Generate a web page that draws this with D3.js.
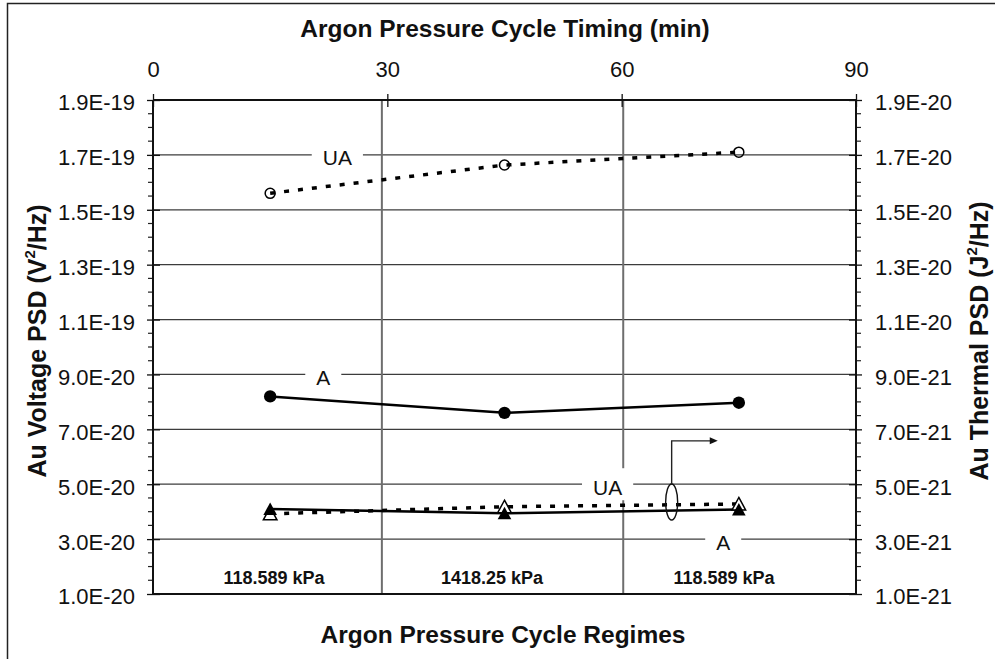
<!DOCTYPE html>
<html>
<head>
<meta charset="utf-8">
<script src="https://cdn.jsdelivr.net/npm/d3@7"></script>
<style>
  html, body { margin: 0; padding: 0; background: #fff; }
  svg { display: block; font-family: "Liberation Sans", Arial, sans-serif; }
</style>
</head>
<body>
<svg id="chart" width="995" height="659"></svg>
<script>
// ---- data ----
const minutes = [15, 45, 75];
const uaVoltage = [1.56e-19, 1.663e-19, 1.71e-19];   // open circles, left axis
const aVoltage = [8.2e-20, 7.6e-20, 7.97e-20];       // filled circles, left axis
const uaThermal = [3.92e-21, 4.18e-21, 4.28e-21];    // open triangles, right axis
const aThermal = [4.1e-21, 3.94e-21, 4.08e-21];      // filled triangles, right axis

const timeTicks = [0, 30, 60, 90];
const voltageTicks = [1.0e-20, 3.0e-20, 5.0e-20, 7.0e-20, 9.0e-20, 1.1e-19, 1.3e-19, 1.5e-19, 1.7e-19, 1.9e-19];
const thermalTicks = [1.0e-21, 3.0e-21, 5.0e-21, 7.0e-21, 9.0e-21, 1.1e-20, 1.3e-20, 1.5e-20, 1.7e-20, 1.9e-20];

const regimeEdges = [29.3, 60.2];
const regimeNames = ["118.589 kPa", "1418.25 kPa", "118.589 kPa"];

// ---- layout ----
const W = 995, H = 659;
const M = { left: 153, right: 139, top: 100, bottom: 65 };
const regimeLabelAt = [15.5, 43.4, 73.1];

const svg = d3.select("#chart");
svg.append("rect").attr("width", W).attr("height", H).attr("fill", "#fff");
// outer frame
svg.append("rect").attr("x", 7.5).attr("y", 3.5).attr("width", W + 10).attr("height", H + 10)
  .attr("fill", "none").attr("stroke", "#222").attr("stroke-width", 1.5);

const x = d3.scaleLinear().domain([0, 90]).range([M.left, W - M.right]);
const yL = d3.scaleLinear().domain([1.0e-20, 1.9e-19]).range([H - M.bottom, M.top]);
const yR = d3.scaleLinear().domain([1.0e-21, 1.9e-20]).range([H - M.bottom, M.top]);
const fmt = d => d.toExponential(1).toUpperCase();

const x0 = x.range()[0], x1 = x.range()[1];
const yTop = yL.range()[1], yBot = yL.range()[0];

// horizontal gridlines
svg.append("g").selectAll("line").data(voltageTicks.slice(1, -1)).join("line")
  .attr("x1", x0).attr("x2", x1)
  .attr("y1", d => yL(d)).attr("y2", d => yL(d))
  .attr("stroke", "#3c3c3c").attr("stroke-width", 1.3);

// regime separators
svg.append("g").selectAll("line").data(regimeEdges).join("line")
  .attr("x1", d => x(d)).attr("x2", d => x(d))
  .attr("y1", yTop).attr("y2", yBot)
  .attr("stroke", "#6e6e6e").attr("stroke-width", 2);

// minor ticks (left & right)
const minorStep = 5e-21;
const minorL = d3.range(0, 37).map(i => 1.0e-20 + i * minorStep).filter((d, i) => i % 4 !== 0);
svg.append("g").selectAll("line").data(minorL).join("line")
  .attr("x1", x0 - 5).attr("x2", x0)
  .attr("y1", d => yL(d)).attr("y2", d => yL(d))
  .attr("stroke", "#222").attr("stroke-width", 1.2);
svg.append("g").selectAll("line").data(minorL).join("line")
  .attr("x1", x1).attr("x2", x1 + 5)
  .attr("y1", d => yL(d)).attr("y2", d => yL(d))
  .attr("stroke", "#222").attr("stroke-width", 1.2);

// axes
const tickFont = 22;
const gTop = svg.append("g").attr("transform", `translate(0,${yTop})`)
  .call(d3.axisTop(x).tickValues(timeTicks).tickSize(6).tickFormat(d3.format("d")));
gTop.selectAll(".tick line").attr("y1", 7).attr("y2", -6);
gTop.selectAll(".tick text").attr("y", -23).attr("dy", 0);

const gLeft = svg.append("g").attr("transform", `translate(${x0},0)`)
  .call(d3.axisLeft(yL).tickValues(voltageTicks).tickSize(6).tickFormat(fmt));
gLeft.selectAll(".tick line").attr("x1", 7).attr("x2", -6);
gLeft.selectAll(".tick text").attr("x", -18).attr("dy", "0.45em");

const gRight = svg.append("g").attr("transform", `translate(${x1},0)`)
  .call(d3.axisRight(yR).tickValues(thermalTicks).tickSize(6).tickFormat(fmt));
gRight.selectAll(".tick line").attr("x1", -7).attr("x2", 6);
gRight.selectAll(".tick text").attr("x", 19).attr("dy", "0.45em");

const gBottom = svg.append("g").attr("transform", `translate(0,${yBot})`)
  .call(d3.axisBottom(x).tickValues([]).tickSize(0));

[gTop, gLeft, gRight, gBottom].forEach(g => {
  g.select(".domain").attr("stroke", "#111").attr("stroke-width", 2);
  g.selectAll(".tick line").attr("stroke", "#111").attr("stroke-width", 1.3);
  g.selectAll(".tick text").attr("font-size", tickFont).attr("fill", "#111")
    .attr("font-family", "Liberation Sans, Arial, sans-serif");
});
gTop.select(".domain").attr("d", `M${x0},0H${x1}`);
gBottom.select(".domain").attr("d", `M${x0},0H${x1}`);
gLeft.select(".domain").attr("d", `M0,${yTop}V${yBot}`);
gRight.select(".domain").attr("d", `M0,${yTop}V${yBot}`);

// series labels on white patches
function seriesLabel(t, minute, value) {
  const g = svg.append("g");
  const rect = g.append("rect").attr("fill", "#fff");
  const txt = g.append("text").attr("x", x(minute)).attr("y", yL(value) + 10.5)
    .attr("text-anchor", "middle").attr("font-size", 21).attr("fill", "#111").text(t);
  const bb = txt.node().getBBox();
  rect.attr("x", bb.x - 11).attr("width", bb.width + 22)
    .attr("y", yL(value) - 16).attr("height", 32);
}
seriesLabel("UA", 23.6, 1.7e-19);
seriesLabel("A", 21.8, 9.0e-20);
seriesLabel("UA", 58.2, 5.0e-20);
seriesLabel("A", 73.0, 3.0e-20);

// regime names
svg.append("g").selectAll("text").data(regimeNames).join("text")
  .attr("x", (d, i) => x(regimeLabelAt[i])).attr("y", yBot - 10)
  .attr("text-anchor", "middle").attr("font-size", 18).attr("font-weight", "bold")
  .attr("fill", "#111").text(d => d);

// lines
const lineL = d3.line().x((d, i) => x(minutes[i])).y(d => yL(d));
const lineR = d3.line().x((d, i) => x(minutes[i])).y(d => yR(d));

svg.append("path").datum(uaVoltage).attr("d", lineL).attr("fill", "none")
  .attr("stroke", "#000").attr("stroke-width", 3.5).attr("stroke-dasharray", "5,9");
svg.append("path").datum(aVoltage).attr("d", lineL).attr("fill", "none")
  .attr("stroke", "#000").attr("stroke-width", 2.5);
svg.append("path").datum(uaThermal).attr("d", lineR).attr("fill", "none")
  .attr("stroke", "#000").attr("stroke-width", 3.5).attr("stroke-dasharray", "5,9");
svg.append("path").datum(aThermal).attr("d", lineR).attr("fill", "none")
  .attr("stroke", "#000").attr("stroke-width", 2.5);

// markers
svg.append("g").selectAll("circle").data(uaVoltage).join("circle")
  .attr("cx", (d, i) => x(minutes[i])).attr("cy", d => yL(d)).attr("r", 5)
  .attr("fill", "none").attr("stroke", "#000").attr("stroke-width", 1.5);
svg.append("g").selectAll("circle").data(aVoltage).join("circle")
  .attr("cx", (d, i) => x(minutes[i])).attr("cy", d => yL(d)).attr("r", 6.2)
  .attr("fill", "#000");

const tri = "M0,-6.5L6.8,6L-6.8,6Z";
svg.append("g").selectAll("path").data(uaThermal).join("path")
  .attr("transform", (d, i) => `translate(${x(minutes[i])},${yR(d)})`).attr("d", tri)
  .attr("fill", "#fff").attr("stroke", "#000").attr("stroke-width", 1.5);
svg.append("g").selectAll("path").data(aThermal).join("path")
  .attr("transform", (d, i) => `translate(${x(minutes[i])},${yR(d)})`).attr("d", tri)
  .attr("fill", "#000");

// callout: ellipse around the triangle series pointing to the right axis
const cx = x(66.4), cy = yL(4.35e-20);
const arrowY = yL(6.58e-20), arrowX = x(72.3);
svg.append("ellipse").attr("cx", cx).attr("cy", cy).attr("rx", 6).attr("ry", 18)
  .attr("fill", "none").attr("stroke", "#111").attr("stroke-width", 1.4);
svg.append("path").attr("d", `M${cx},${cy - 18}V${arrowY}H${arrowX - 6}`)
  .attr("fill", "none").attr("stroke", "#222").attr("stroke-width", 1.4);
svg.append("path").attr("d", `M${arrowX},${arrowY}l-8,-3.5v7Z`).attr("fill", "#111");

// titles
svg.append("text").attr("x", 505).attr("y", 37).attr("text-anchor", "middle")
  .attr("font-size", 24.5).attr("font-weight", "bold").attr("fill", "#111")
  .text("Argon Pressure Cycle Timing (min)");
svg.append("text").attr("x", 503).attr("y", 643).attr("text-anchor", "middle")
  .attr("font-size", 24.5).attr("font-weight", "bold").attr("fill", "#111")
  .text("Argon Pressure Cycle Regimes");

function vTitle(xPos, before, unit) {
  const t = svg.append("text")
    .attr("transform", `translate(${xPos},${(yTop + yBot) / 2 - 6}) rotate(-90)`)
    .attr("text-anchor", "middle").attr("font-size", 25).attr("font-weight", "bold")
    .attr("fill", "#111");
  t.append("tspan").text(before);
  t.append("tspan").attr("font-size", 15).attr("dy", -11).text("2");
  t.append("tspan").attr("dy", 11).text(unit);
}
vTitle(46, "Au Voltage PSD (V", "/Hz)");
vTitle(988, "Au Thermal PSD (J", "/Hz)");
</script>
</body>
</html>
